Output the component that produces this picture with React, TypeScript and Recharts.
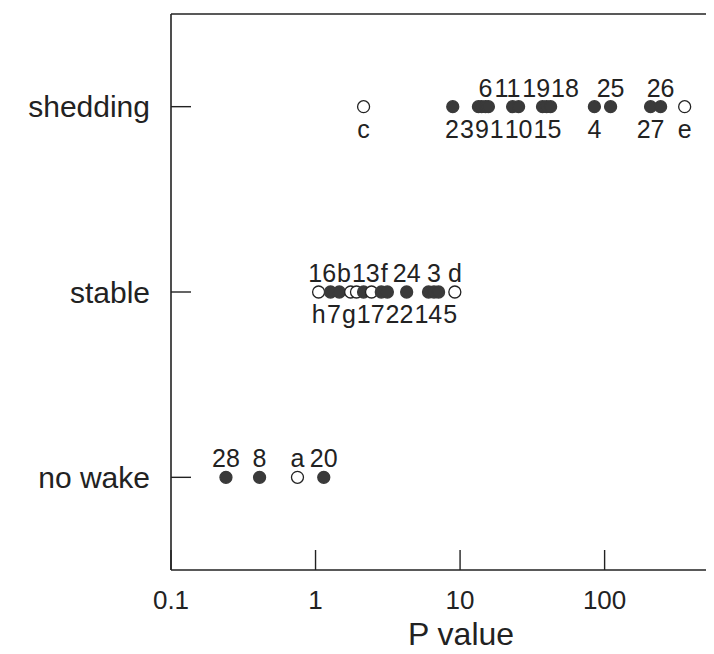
import { ScatterChart, Scatter, XAxis, YAxis } from 'recharts';

// wake regimes, bottom to top (y = 1, 2, 3)
const rows = ['no wake', 'stable', 'shedding'];

const sheddingCases = ['c', '2', '3', '9', '1', '6', '11', '10', '19', '15', '18', '4', '25', '27', '26', 'e'];
const sheddingP = [2.15, 8.9, 13.4, 14.1, 15.0, 15.7, 23.1, 25.4, 37.2, 39.7, 42.3, 85, 110, 208, 244, 358];
const sheddingAbove = ['6', '11', '19', '18', '25', '26'];

const stableCases = ['h', '16', '7', 'b', 'g', '13', 'f', '17', '22', '24', '14', '3', '5', 'd'];
const stableP = [1.05, 1.27, 1.46, 1.75, 1.92, 2.15, 2.44, 2.85, 3.14, 4.27, 6.05, 6.6, 7.1, 9.2];
const stableAbove = ['16', 'b', '13', 'f', '24', '3', 'd'];

const noWakeCases = ['28', '8', 'a', '20'];
const noWakeP = [0.24, 0.41, 0.75, 1.14];
const noWakeAbove = ['28', '8', 'a', '20'];

const xTicks = [0.1, 1, 10, 100];

const INK = '#222';
const DOT = '#3a3a3a';
const FONT = '"Liberation Sans", Arial, Helvetica, sans-serif';

// the figure is cropped on the right: the plot runs on past the page edge
const VIEW_W = 706;
const CHART_W = 743;
const CHART_H = 644;
const Y_AXIS_W = 163;
const X_MIN = 0.1;
const X_MAX = 1030;
const LABEL_SIZE = 25;

const pxPerDecade = (CHART_W - Y_AXIS_W) / Math.log10(X_MAX / X_MIN);

const charW = (ch: string) => (ch === 'f' ? 0.278 : ch === 'c' ? 0.5 : 0.556) * LABEL_SIZE;
const textW = (s: string) => s.split('').reduce((a, c) => a + charW(c), 0);

// push crowded labels apart along the log axis, keeping each group centred on its points
function pack(ids: string[], ps: number[], gap = 1): number[] {
  const items = ids.map((id, i) => ({ i, t: Math.log10(ps[i]) * pxPerDecade, w: textW(id) }));
  items.sort((a, b) => a.t - b.t);
  type Cl = { items: typeof items; left: number; width: number };
  const place = (c: Cl) => {
    let off = 0;
    let sum = 0;
    c.items.forEach((it) => {
      sum += it.t - off - it.w / 2;
      off += it.w + gap;
    });
    c.width = off - gap;
    c.left = sum / c.items.length;
  };
  const cls: Cl[] = [];
  for (const it of items) {
    let c: Cl = { items: [it], left: 0, width: 0 };
    place(c);
    while (cls.length) {
      const prev = cls[cls.length - 1];
      if (prev.left + prev.width + gap <= c.left) break;
      cls.pop();
      c = { items: [...prev.items, ...c.items], left: 0, width: 0 };
      place(c);
    }
    cls.push(c);
  }
  const out: number[] = new Array(ids.length);
  cls.forEach((c) => {
    let off = c.left;
    c.items.forEach((it) => {
      out[it.i] = Math.pow(10, (off + it.w / 2) / pxPerDecade);
      off += it.w + gap;
    });
  });
  return out;
}

const groups = [
  { row: 3, ids: sheddingCases, ps: sheddingP, above: sheddingAbove },
  { row: 2, ids: stableCases, ps: stableP, above: stableAbove },
  { row: 1, ids: noWakeCases, ps: noWakeP, above: noWakeAbove },
];

const points = groups.flatMap((g) => g.ids.map((id, i) => ({ id, p: g.ps[i], row: g.row })));

const labels = groups.flatMap((g) =>
  [true, false].flatMap((up) => {
    const idx = g.ids.map((_, i) => i).filter((i) => g.above.includes(g.ids[i]) === up);
    const ids = idx.map((i) => g.ids[i]);
    const ps = idx.map((i) => g.ps[i]);
    const pos = pack(ids, ps);
    return ids.map((id, k) => ({ id, p: pos[k], row: g.row, up }));
  })
);

const Dot = (props: any) => {
  const { cx, cy, payload } = props;
  const open = isNaN(Number(payload.id));
  return (
    <circle
      cx={cx}
      cy={cy}
      r={6}
      fill={open ? '#fff' : DOT}
      stroke={open ? INK : DOT}
      strokeWidth={1.3}
    />
  );
};

const Tag = (props: any) => {
  const { cx, cy, payload } = props;
  return (
    <text x={cx} y={cy + (payload.up ? -10 : 31)} textAnchor="middle" fontSize={LABEL_SIZE} fill={INK}>
      {payload.id}
    </text>
  );
};

export default function App() {
  return (
    <div style={{ width: VIEW_W, height: CHART_H, overflow: 'hidden', fontFamily: FONT, background: '#fff' }}>
      <ScatterChart width={CHART_W} height={CHART_H} margin={{ top: 5, right: 0, bottom: 0, left: 0 }}>
        <XAxis
          xAxisId="top" orientation="top" type="number" scale="log"
          domain={[X_MIN, X_MAX]} allowDataOverflow ticks={[1, 10, 100]} interval={0}
          height={1} tickSize={-20} tick={() => <g />}
          stroke={INK} axisLine={{ strokeWidth: 1.6 }} tickLine={{ strokeWidth: 1.4 }}
        />
        <XAxis
          dataKey="p" type="number" scale="log"
          domain={[X_MIN, X_MAX]} allowDataOverflow ticks={xTicks} interval={0}
          height={82} tickSize={-20} tickMargin={41}
          tick={{ fontSize: 26, fill: INK }} tickFormatter={(v) => String(v)}
          stroke={INK} axisLine={{ strokeWidth: 1.6 }} tickLine={{ strokeWidth: 1.4 }}
          label={{ value: 'P value', position: 'insideBottom', offset: 7, fontSize: 32, fill: INK }}
        />
        <YAxis
          dataKey="row" type="number" domain={[0.5, 3.5]} ticks={[1, 2, 3]} interval={0}
          width={Y_AXIS_W} tickSize={-20} tickMargin={41}
          tick={{ fontSize: 30, fill: INK }} tickFormatter={(v) => rows[v - 1]}
          stroke={INK} axisLine={{ strokeWidth: 1.6 }} tickLine={{ strokeWidth: 1.4 }}
        />
        <Scatter data={points} dataKey="row" shape={Dot} isAnimationActive={false} />
        <Scatter data={labels} dataKey="row" shape={Tag} isAnimationActive={false} />
      </ScatterChart>
    </div>
  );
}
